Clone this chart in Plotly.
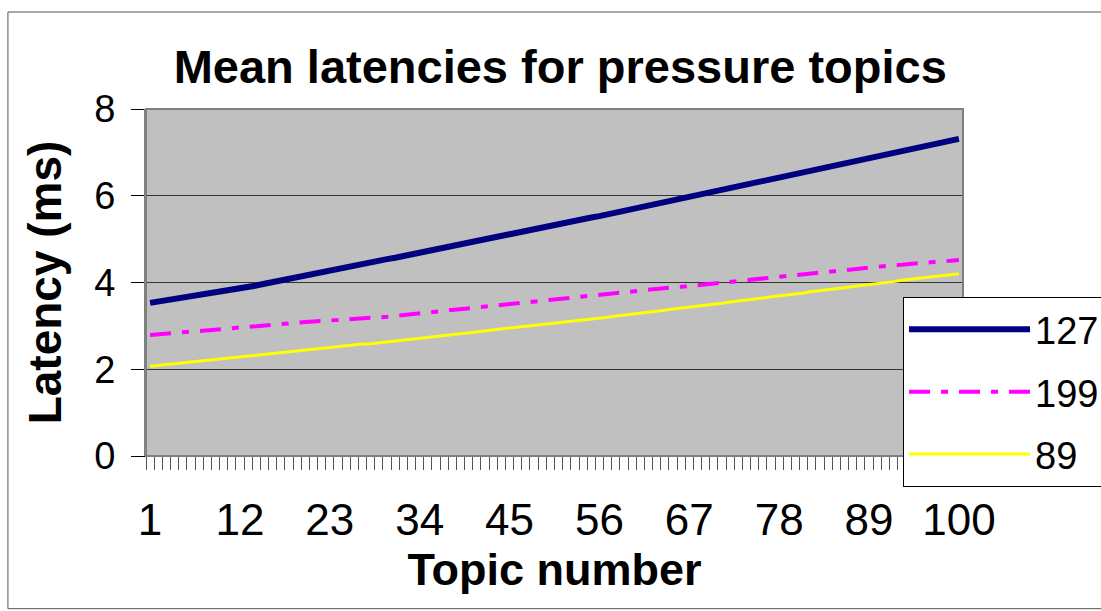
import plotly.graph_objects as go

topics = list(range(1, 101))

lat_127 = [3.53, 3.56, 3.59, 3.62, 3.65, 3.67, 3.70, 3.73, 3.75, 3.78,
           3.82, 3.86, 3.89, 3.93, 3.97, 4.01, 4.04, 4.08, 4.12, 4.16,
           4.20, 4.24, 4.27, 4.31, 4.35, 4.38, 4.42, 4.46, 4.50, 4.54,
           4.57, 4.61, 4.65, 4.68, 4.72, 4.76, 4.80, 4.83, 4.87, 4.91,
           4.95, 4.99, 5.03, 5.07, 5.11, 5.14, 5.18, 5.22, 5.26, 5.30,
           5.34, 5.38, 5.42, 5.46, 5.50, 5.53, 5.57, 5.61, 5.65, 5.69,
           5.73, 5.77, 5.81, 5.85, 5.89, 5.93, 5.97, 6.01, 6.05, 6.09,
           6.13, 6.17, 6.21, 6.25, 6.29, 6.33, 6.37, 6.41, 6.45, 6.49,
           6.53, 6.57, 6.62, 6.66, 6.70, 6.74, 6.79, 6.83, 6.87, 6.91,
           6.95, 6.99, 7.03, 7.07, 7.11, 7.15, 7.19, 7.23, 7.27, 7.31]

lat_199 = [2.79, 2.81, 2.82, 2.84, 2.85, 2.87, 2.88, 2.90, 2.91, 2.93,
           2.95, 2.96, 2.98, 2.99, 3.01, 3.02, 3.04, 3.06, 3.07, 3.09,
           3.10, 3.11, 3.13, 3.14, 3.15, 3.16, 3.17, 3.19, 3.20, 3.21,
           3.23, 3.25, 3.27, 3.29, 3.31, 3.33, 3.35, 3.37, 3.39, 3.41,
           3.43, 3.45, 3.47, 3.49, 3.51, 3.53, 3.55, 3.57, 3.59, 3.61,
           3.63, 3.65, 3.66, 3.68, 3.70, 3.72, 3.74, 3.75, 3.77, 3.79,
           3.81, 3.83, 3.85, 3.87, 3.89, 3.90, 3.92, 3.94, 3.96, 3.98,
           4.00, 4.02, 4.04, 4.06, 4.08, 4.09, 4.11, 4.13, 4.15, 4.17,
           4.19, 4.21, 4.23, 4.25, 4.27, 4.29, 4.31, 4.33, 4.35, 4.37,
           4.38, 4.40, 4.41, 4.43, 4.44, 4.46, 4.47, 4.49, 4.50, 4.52]

lat_89 = [2.07, 2.09, 2.11, 2.13, 2.15, 2.17, 2.19, 2.21, 2.23, 2.25,
          2.27, 2.29, 2.31, 2.33, 2.35, 2.37, 2.39, 2.41, 2.43, 2.45,
          2.47, 2.49, 2.50, 2.52, 2.54, 2.56, 2.58, 2.59, 2.61, 2.63,
          2.65, 2.67, 2.69, 2.71, 2.74, 2.76, 2.78, 2.80, 2.82, 2.84,
          2.86, 2.88, 2.91, 2.93, 2.95, 2.97, 2.99, 3.02, 3.04, 3.06,
          3.08, 3.10, 3.12, 3.14, 3.16, 3.18, 3.20, 3.23, 3.25, 3.27,
          3.29, 3.32, 3.34, 3.36, 3.39, 3.41, 3.43, 3.45, 3.48, 3.50,
          3.52, 3.55, 3.57, 3.60, 3.62, 3.64, 3.67, 3.69, 3.72, 3.74,
          3.76, 3.79, 3.81, 3.84, 3.86, 3.88, 3.91, 3.93, 3.96, 3.98,
          4.00, 4.02, 4.05, 4.07, 4.09, 4.11, 4.13, 4.16, 4.18, 4.20]

x_tick_labels = [1, 12, 23, 34, 45, 56, 67, 78, 89, 100]
y_tick_values = [0, 2, 4, 6, 8]
series_names = ["127", "199", "89"]

FONT = "Liberation Sans, Arial, sans-serif"

fig = go.Figure()
fig.add_trace(go.Scatter(x=topics, y=lat_127, mode="lines",
                         name=series_names[0], legendgroup="a",
                         line=dict(color="#000080", width=6)))
fig.add_trace(go.Scatter(x=topics, y=lat_199, mode="lines",
                         name=series_names[1], legendgroup="b",
                         line=dict(color="#FF00FF", width=4,
                                   dash="21px,11px,7px,11px")))
fig.add_trace(go.Scatter(x=topics, y=lat_89, mode="lines",
                         name=series_names[2], legendgroup="c",
                         line=dict(color="#FFFF00", width=3)))

fig.update_layout(
    width=1101, height=611,
    margin=dict(l=146, r=138, t=109, b=155, autoexpand=False),
    paper_bgcolor="white",
    plot_bgcolor="#C0C0C0",
    font=dict(family=FONT, color="black"),
    title=dict(text="<b>Mean latencies for pressure topics</b>",
               x=0.507, xref="paper", xanchor="center",
               y=1 - 67 / 611, yref="container", yanchor="middle",
               font=dict(size=47, family=FONT, color="black")),
    showlegend=True,
    legend=dict(x=0.9266, y=0.458, xanchor="left", yanchor="top",
                bgcolor="white", bordercolor="black", borderwidth=1,
                font=dict(size=38, family=FONT, color="black"),
                itemwidth=121, tracegroupgap=10, traceorder="grouped"),
    xaxis=dict(range=[0.5, 100.5], tickmode="array",
               tickvals=x_tick_labels,
               ticktext=[str(v) for v in x_tick_labels],
               ticks="", showgrid=False, zeroline=False,
               showline=True, linecolor="black", linewidth=1,
               tickfont=dict(size=44, family=FONT, color="black"),
               ticklabelstandoff=25,
               minor=dict(tickmode="linear", tick0=0.5, dtick=1,
                          ticks="outside", ticklen=13, tickwidth=1,
                          tickcolor="#555555", showgrid=False),
               title=dict(text="<b>Topic number</b>", standoff=3,
                          font=dict(size=45, family=FONT, color="black")),
               automargin=False),
    yaxis=dict(range=[0, 8], tickmode="array", tickvals=y_tick_values,
               ticks="outside", ticklen=13, tickwidth=1, tickcolor="black",
               showgrid=True, gridcolor="#333333", gridwidth=1,
               zeroline=False, showline=True, linecolor="#808080",
               linewidth=2,
               tickfont=dict(size=38, family=FONT, color="black"),
               ticklabelstandoff=8,
               title=dict(text="<b>Latency (ms)</b>", standoff=18,
                          font=dict(size=46, family=FONT, color="black")),
               automargin=False),
)

# plot-area border and outer chart frame
fig.add_shape(type="rect", xref="paper", yref="paper", x0=0, x1=1, y0=0, y1=1,
              line=dict(color="#808080", width=2), layer="above")
fig.add_shape(type="rect", xref="paper", yref="paper",
              x0=-0.169, x1=1.3, y0=-0.44, y1=1.2795,
              line=dict(color="#555555", width=1), layer="below")

fig.write_html("out.html")
